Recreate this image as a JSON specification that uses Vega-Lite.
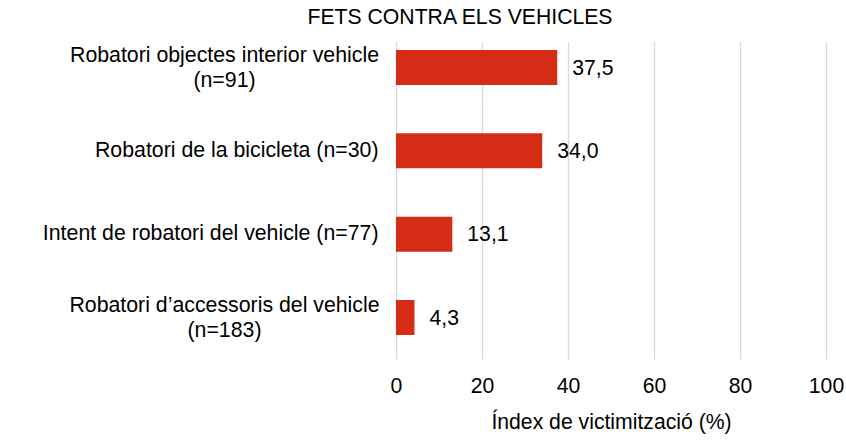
{
  "$schema": "https://vega.github.io/schema/vega-lite/v6.json",
  "width": 430,
  "height": 317,
  "autosize": {"type": "none"},
  "padding": {"left": 396, "top": 42, "right": 20, "bottom": 81},
  "background": "#ffffff",
  "title": {
    "text": "FETS CONTRA ELS VEHICLES",
    "anchor": "middle",
    "frame": "group",
    "dx": -151,
    "offset": 14,
    "fontSize": 21.2,
    "font": "Liberation Sans",
    "fontWeight": "normal",
    "color": "#000000"
  },
  "config": {
    "view": {"stroke": null},
    "font": "Liberation Sans",
    "locale": {
      "number": {"decimal": ",", "thousands": ".", "grouping": [3], "currency": ["", "\u00a0€"]}
    }
  },
  "data": {
    "values": [
      {"categoria": "Robatori objectes interior vehicle|(n=91)", "valor": 37.5},
      {"categoria": "Robatori de la bicicleta (n=30)", "valor": 34.0},
      {"categoria": "Intent de robatori del vehicle (n=77)", "valor": 13.1},
      {"categoria": "Robatori d\u2019accessoris del vehicle|(n=183)", "valor": 4.3}
    ]
  },
  "encoding": {
    "y": {
      "field": "categoria",
      "type": "nominal",
      "sort": null,
      "scale": {"paddingInner": 0.58, "paddingOuter": 0.192, "align": 0.25},
      "axis": {
        "title": null,
        "domain": false,
        "ticks": false,
        "grid": false,
        "labelExpr": "split(datum.value, '|')",
        "labelFont": "Liberation Sans",
        "labelFontSize": 21.3,
        "labelColor": "#000000",
        "labelLimit": 400,
        "labelLineHeight": 25.6,
        "labelAlign": {"condition": {"test": "indexof(datum.value, '|') >= 0", "value": "center"}, "value": "right"},
        "labelPadding": {"condition": {"test": "indexof(datum.value, '|') >= 0", "value": 172}, "value": 18},
        "labelOffset": {"condition": {"test": "indexof(datum.value, '|') >= 0", "value": -12}, "value": 0}
      }
    }
  },
  "layer": [
    {
      "mark": {"type": "bar", "color": "#d52d15"},
      "encoding": {
        "x": {
          "field": "valor",
          "type": "quantitative",
          "scale": {"domain": [0, 100]},
          "axis": {
            "title": "Índex de victimització (%)",
            "values": [0, 20, 40, 60, 80, 100],
            "grid": true,
            "gridColor": "#d9d9d9",
            "gridWidth": 1.3,
            "domain": false,
            "ticks": false,
            "labelFont": "Liberation Sans",
            "labelFontSize": 21.2,
            "labelColor": "#000000",
            "labelPadding": 16,
            "labelFlush": false,
            "titleFont": "Liberation Sans",
            "titleFontSize": 21.2,
            "titleFontWeight": "normal",
            "titleColor": "#000000",
            "titlePadding": 15
          }
        }
      }
    },
    {
      "mark": {"type": "text", "align": "left", "baseline": "middle", "dx": 15, "dy": 1, "fontSize": 21.2, "font": "Liberation Sans", "color": "#000000"},
      "encoding": {
        "x": {"field": "valor", "type": "quantitative"},
        "text": {"field": "valor", "type": "quantitative", "format": ".1f"}
      }
    }
  ]
}
